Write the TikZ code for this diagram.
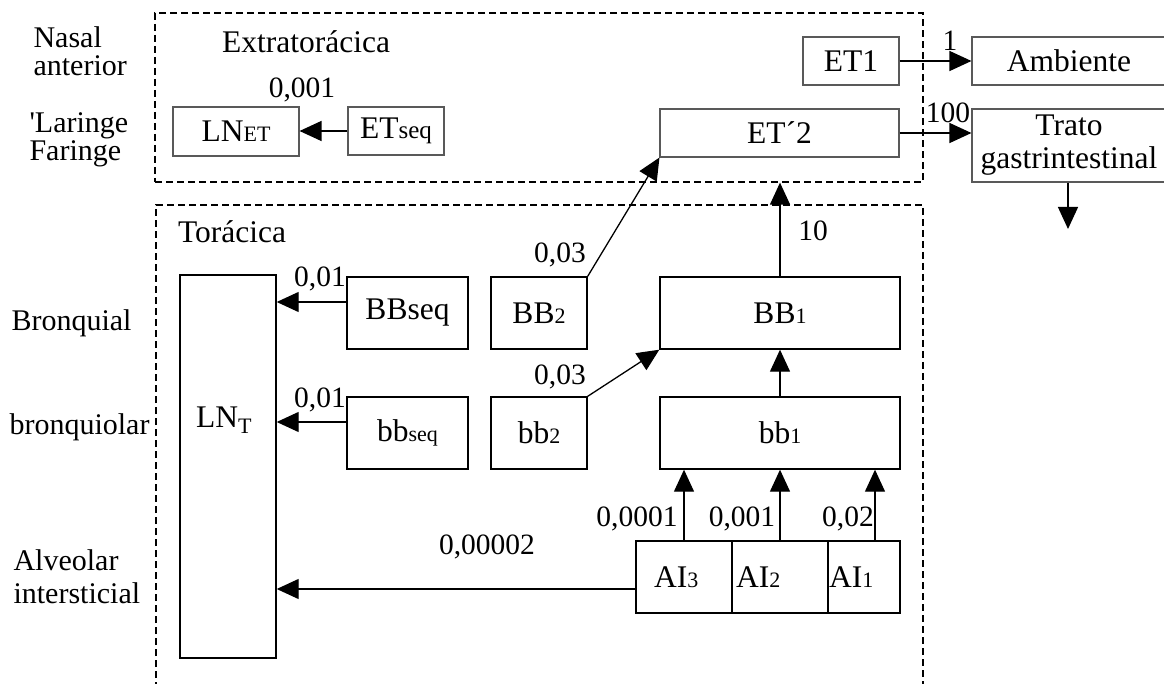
\documentclass[tikz,border=0pt]{standalone}
\usepackage{fontspec}
\setmainfont{Liberation Serif}
\usetikzlibrary{arrows.meta,positioning,calc}
\tikzstyle{arrow} = [line width=1.3pt,-{Triangle[length=22pt,width=20pt]}]
\tikzstyle{compart} = [draw,line width=1.4pt,inner sep=0pt]
\tikzstyle{extbox} = [draw=black!65,line width=1.1pt,inner sep=0pt]
\tikzstyle{region} = [draw,line width=1.3pt,dash pattern=on 7pt off 4pt]
\tikzstyle{rate} = [font=\fontsize{29.5}{31}\selectfont,inner sep=0pt]
\tikzstyle{side} = [anchor=west,align=left,font=\fontsize{30}{33}\selectfont]
\newcommand{\idx}[1]{{\fontsize{22}{22}\selectfont #1}}

\begin{document}
\begin{tikzpicture}[x=1pt,y=-1pt,font=\fontsize{31.5}{33}\selectfont]
\clip (0,0) rectangle (1164,684);

% regioes
\node[region,minimum width=768pt,minimum height=169pt] (extra) at (539,97.5) {};
\draw[region] (156,700) -- (156,205) -- (923,205) -- (923,700);
\node at (306,42) {Extratorácica};
\node at (232,232) {Torácica};

% nomes das regioes
\node[side,font=\fontsize{30}{28}\selectfont] at (30,51) {Nasal\\anterior};
\node[side,font=\fontsize{30}{28}\selectfont] at (26,140) {\textquotesingle Laringe\\Faringe};
\node[side] at (8,323) {Bronquial};
\node[side] at (6,427) {bronquiolar};
\node[side] at (10,577) {Alveolar\\intersticial};

% compartimentos extratoracicos
\node[extbox,minimum width=126pt,minimum height=49pt] (LNet) at (236,131.5) {\raisebox{-4pt}{LN\idx{ET}}};
\node[extbox,minimum width=96pt,minimum height=48pt] (ETseq) at (396,131) {ET{\fontsize{25}{25}\selectfont seq}};
\node[extbox,minimum width=96pt,minimum height=48pt] (ET1) at (851,61) {ET1};
\node[extbox,minimum width=239pt,minimum height=48pt] (ET2) at (779.5,133) {ET´2};
\node[extbox,minimum width=194pt,minimum height=48pt] (amb) at (1069,61) {Ambiente};
\node[extbox,minimum width=194pt,minimum height=73pt,align=center] (gi) at (1069,145.5) {Trato\\gastrintestinal};
\coordinate (giout) at (1068,229);

% compartimentos toracicos
\node[compart,minimum width=96pt,minimum height=383pt] (LNT) at (228,466.5) {};
\node at (224,420) {LN\textsubscript{T}};
\node[compart,minimum width=121pt,minimum height=72pt] (BBseq) at (407.5,313) {BBseq};
\node[compart,minimum width=96pt,minimum height=72pt] (BB2) at (539,313) {BB\idx{2}};
\node[compart,minimum width=240pt,minimum height=72pt] (BB1) at (780,313) {BB\idx{1}};
\node[compart,minimum width=121pt,minimum height=72pt] (bbseq) at (407.5,433) {bb\idx{seq}};
\node[compart,minimum width=96pt,minimum height=72pt] (bb2) at (539,433) {bb\idx{2}};
\node[compart,minimum width=240pt,minimum height=72pt] (bb1) at (780,433) {bb\idx{1}};
\node[compart,minimum width=96pt,minimum height=72pt] (AIc) at (684,577) {};
\node[compart,minimum width=96pt,minimum height=72pt] (AIb) at (780,577) {};
\node[compart,minimum width=72pt,minimum height=72pt] (AIa) at (864,577) {};
\node[anchor=west,inner sep=0pt] at (654,577) {AI\idx{3}};
\node[anchor=west,inner sep=0pt] at (736,577) {AI\idx{2}};
\node[anchor=west,inner sep=0pt] at (829,577) {AI\idx{1}};

% transferencias
\draw[arrow] (ETseq.west) -- (ETseq.west -| LNet.east);
\draw[arrow] (ET1.east) -- (ET1.east -| amb.west);
\draw[arrow] (ET2.east) -- (ET2.east -| gi.west);
\draw[arrow] (gi.south -| giout) -- (giout);
\draw[arrow] (BB2.north east) -- (ET2.south west);
\draw[arrow] (bb2.north east) -- (BB1.south west);
\draw[arrow] (BB1.north) -- (BB1.north |- extra.south);
\draw[arrow] (bb1.north) -- (BB1.south);
\foreach \c in {BBseq,bbseq}{
	\draw[arrow] ([yshift=11pt]\c.west) -- ([yshift=11pt]\c.west -| LNT.east);
}
\draw[arrow] ([yshift=-12pt]AIc.west) -- ([yshift=-12pt]AIc.west -| LNT.east);
\foreach \c/\s in {AIc/0,AIb/0,AIa/11}{
	\draw[arrow] ([xshift=\s pt]\c.north) -- ([xshift=\s pt]\c.north |- bb1.south);
}

% taxas
\node[rate] at (302,90) {0,001};
\node[rate] at (950,41) {1};
\node[rate] at (948,113) {100};
\node[rate] at (813,231) {10};
\node[rate] at (560,255) {0,03};
\node[rate] at (560,377) {0,03};
\node[rate] at (320,279) {0,01};
\node[rate] at (320,400) {0,01};
\node[rate] at (637,519) {0,0001};
\node[rate] at (742,519) {0,001};
\node[rate] at (848,519) {0,02};
\node[rate] at (487,547) {0,00002};
\end{tikzpicture}
\end{document}
